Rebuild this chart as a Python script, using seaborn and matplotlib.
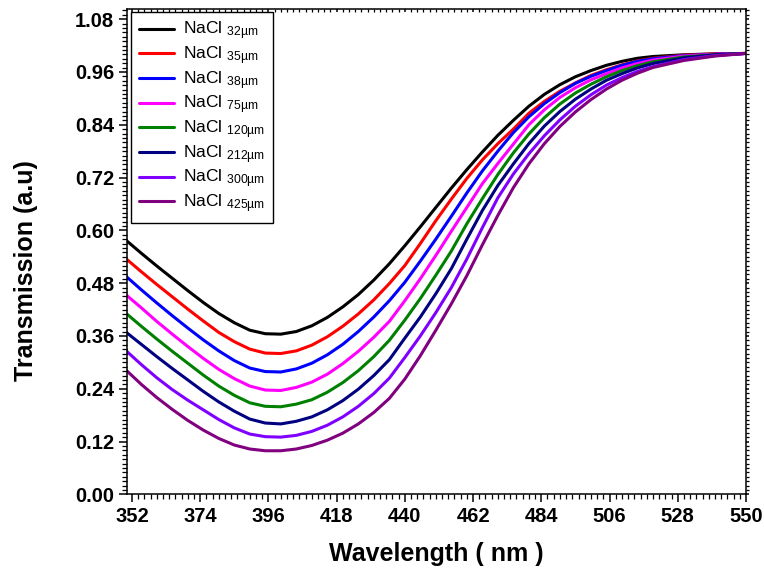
import matplotlib
matplotlib.use("Agg")
import matplotlib.pyplot as plt
import seaborn as sns
import pandas as pd
from matplotlib.ticker import MultipleLocator

wavelength = [350, 355, 360, 365, 370, 375, 380, 385, 390, 395, 400, 405, 410, 415, 420,
              425, 430, 435, 440, 445, 450, 455, 460, 465, 470, 475, 480, 485, 490, 495,
              500, 505, 510, 515, 520, 530, 540, 550]

t_32 = [0.578, 0.548, 0.519, 0.491, 0.463, 0.436, 0.411, 0.390, 0.373, 0.365, 0.364,
        0.370, 0.383, 0.402, 0.426, 0.454, 0.487, 0.524, 0.565, 0.608, 0.652, 0.696,
        0.738, 0.778, 0.816, 0.850, 0.882, 0.909, 0.931, 0.949, 0.963, 0.975, 0.984,
        0.991, 0.995, 0.999, 1.001, 1.002]
t_35 = [0.536, 0.506, 0.477, 0.449, 0.421, 0.394, 0.368, 0.347, 0.330, 0.321, 0.320,
        0.326, 0.339, 0.358, 0.382, 0.410, 0.442, 0.479, 0.520, 0.570, 0.622, 0.671,
        0.718, 0.760, 0.797, 0.830, 0.866, 0.893, 0.916, 0.935, 0.952, 0.965, 0.976,
        0.985, 0.991, 0.998, 1.001, 1.002]
t_38 = [0.496, 0.465, 0.435, 0.406, 0.378, 0.351, 0.326, 0.304, 0.287, 0.279, 0.278,
        0.285, 0.298, 0.317, 0.341, 0.370, 0.403, 0.440, 0.482, 0.530, 0.580, 0.632,
        0.685, 0.735, 0.780, 0.822, 0.858, 0.888, 0.913, 0.934, 0.950, 0.963, 0.975,
        0.984, 0.990, 0.997, 1.000, 1.002]
t_75 = [0.454, 0.424, 0.393, 0.364, 0.336, 0.309, 0.284, 0.263, 0.246, 0.237, 0.236,
        0.243, 0.255, 0.273, 0.297, 0.325, 0.357, 0.393, 0.440, 0.490, 0.543, 0.598,
        0.652, 0.706, 0.752, 0.796, 0.840, 0.874, 0.902, 0.924, 0.942, 0.956, 0.969,
        0.979, 0.987, 0.996, 1.000, 1.002]
t_120 = [0.412, 0.382, 0.353, 0.325, 0.298, 0.271, 0.246, 0.225, 0.208, 0.200, 0.199,
         0.205, 0.215, 0.232, 0.254, 0.281, 0.313, 0.350, 0.396, 0.445, 0.498, 0.553,
         0.615, 0.672, 0.727, 0.776, 0.819, 0.856, 0.887, 0.912, 0.932, 0.949, 0.963,
         0.974, 0.983, 0.994, 0.999, 1.002]
t_212 = [0.369, 0.341, 0.313, 0.286, 0.260, 0.234, 0.210, 0.189, 0.171, 0.162, 0.160,
         0.166, 0.176, 0.192, 0.213, 0.239, 0.270, 0.306, 0.355, 0.403, 0.456, 0.513,
         0.580, 0.645, 0.702, 0.751, 0.797, 0.837, 0.870, 0.898, 0.921, 0.941, 0.956,
         0.969, 0.979, 0.992, 0.999, 1.002]
t_300 = [0.327, 0.295, 0.265, 0.238, 0.214, 0.192, 0.170, 0.151, 0.137, 0.131, 0.130,
         0.134, 0.143, 0.157, 0.176, 0.200, 0.229, 0.264, 0.311, 0.360, 0.413, 0.470,
         0.535, 0.606, 0.674, 0.728, 0.774, 0.815, 0.851, 0.882, 0.908, 0.930, 0.947,
         0.961, 0.972, 0.988, 0.997, 1.002]
t_425 = [0.283, 0.250, 0.220, 0.193, 0.168, 0.146, 0.127, 0.112, 0.103, 0.099, 0.099,
         0.103, 0.111, 0.123, 0.139, 0.160, 0.186, 0.218, 0.262, 0.315, 0.373, 0.433,
         0.497, 0.567, 0.634, 0.697, 0.751, 0.797, 0.836, 0.869, 0.897, 0.921, 0.941,
         0.957, 0.970, 0.986, 0.996, 1.002]

sizes = ["32µm", "35µm", "38µm", "75µm", "120µm", "212µm", "300µm", "425µm"]
series = [t_32, t_35, t_38, t_75, t_120, t_212, t_300, t_425]
colors = ["#000000", "#FF0000", "#0000FF", "#FF00FF", "#008000", "#000080", "#8000FF", "#800080"]

x_ticks = [352, 374, 396, 418, 440, 462, 484, 506, 528, 550]
y_ticks = [0.00, 0.12, 0.24, 0.36, 0.48, 0.60, 0.72, 0.84, 0.96, 1.08]

sns.set_theme(style="white")
plt.rcParams["font.family"] = ["Liberation Sans", "DejaVu Sans"]
plt.rcParams["mathtext.fontset"] = "custom"
plt.rcParams["mathtext.rm"] = "Liberation Sans"
plt.rcParams["mathtext.it"] = "Liberation Sans"
plt.rcParams["text.color"] = "black"
plt.rcParams["axes.labelcolor"] = "black"
plt.rcParams["xtick.color"] = "black"
plt.rcParams["ytick.color"] = "black"

axis_font = "Liberation Sans"
tick_size, label_size = 14.5, 18

fig = plt.figure(figsize=(7.64, 5.76), dpi=100)
ax = fig.add_axes([0.1658, 0.1418, 0.9764 - 0.1658, 0.9844 - 0.1418])

rows = []
for s, vals in zip(sizes, series):
    for w, v in zip(wavelength, vals):
        rows.append({"wl": w, "T": v, "size": s})
df = pd.DataFrame(rows)

labels = ["NaCl $_{\\mathregular{" + s + "}}$" for s in sizes]
for s, lab, c in zip(sizes, labels, colors):
    sub = df[df["size"] == s]
    sns.lineplot(data=sub, x="wl", y="T", color=c, linewidth=2.2, label=lab, ax=ax,
                 sort=False)

ax.set_xlim(350.3, 550)
ax.set_ylim(0, 1.103)
ax.set_xticks(x_ticks)
ax.set_yticks(y_ticks)
ax.set_xticklabels([str(t) for t in x_ticks])
ax.set_yticklabels([f"{t:.2f}" for t in y_ticks])
ax.xaxis.set_minor_locator(MultipleLocator(2))
ax.yaxis.set_minor_locator(MultipleLocator(0.01))

for sp in ax.spines.values():
    sp.set_visible(True)
    sp.set_color("black")
    sp.set_linewidth(1.1)

ax.tick_params(axis="both", which="major", direction="out", length=6, width=1.1,
               colors="black", labelcolor="black", pad=3, bottom=True, left=True)
ax.tick_params(axis="both", which="minor", direction="out", length=3.5, width=0.9,
               colors="black", bottom=True, left=True)
ax.tick_params(axis="both", which="both", top=True, right=True,
               labeltop=False, labelright=False)
for t in ax.xaxis.get_major_ticks() + ax.xaxis.get_minor_ticks():
    t.tick2line.set_marker(3)
    t.tick2line.set_markersize(2)
for t in ax.yaxis.get_major_ticks() + ax.yaxis.get_minor_ticks():
    t.tick2line.set_marker(1)
    t.tick2line.set_markersize(2)

for lbl in ax.get_xticklabels() + ax.get_yticklabels():
    lbl.set_fontweight("bold")
    lbl.set_fontfamily(axis_font)
    lbl.set_fontsize(tick_size)
    lbl.set_color("black")

ax.set_xlabel("Wavelength ( nm )", fontsize=label_size, fontweight="bold",
              fontfamily=axis_font, labelpad=12, color="black")
ax.set_ylabel("Transmission (a.u)", fontsize=label_size, fontweight="bold",
              fontfamily=axis_font, color="black")
ax.yaxis.set_label_coords(-0.143, 0.462)
ax.grid(False)

leg = ax.legend(loc="upper left", bbox_to_anchor=(0.007, 0.994), borderaxespad=0,
                fontsize=12.5, frameon=True, fancybox=False,
                edgecolor="black", framealpha=1, handlelength=2.0, handletextpad=0.55,
                labelspacing=0.12, borderpad=0.45)
leg.get_frame().set_linewidth(1.0)
for txt in leg.get_texts():
    txt.set_color("black")

fig.savefig("out.png", dpi=100)
